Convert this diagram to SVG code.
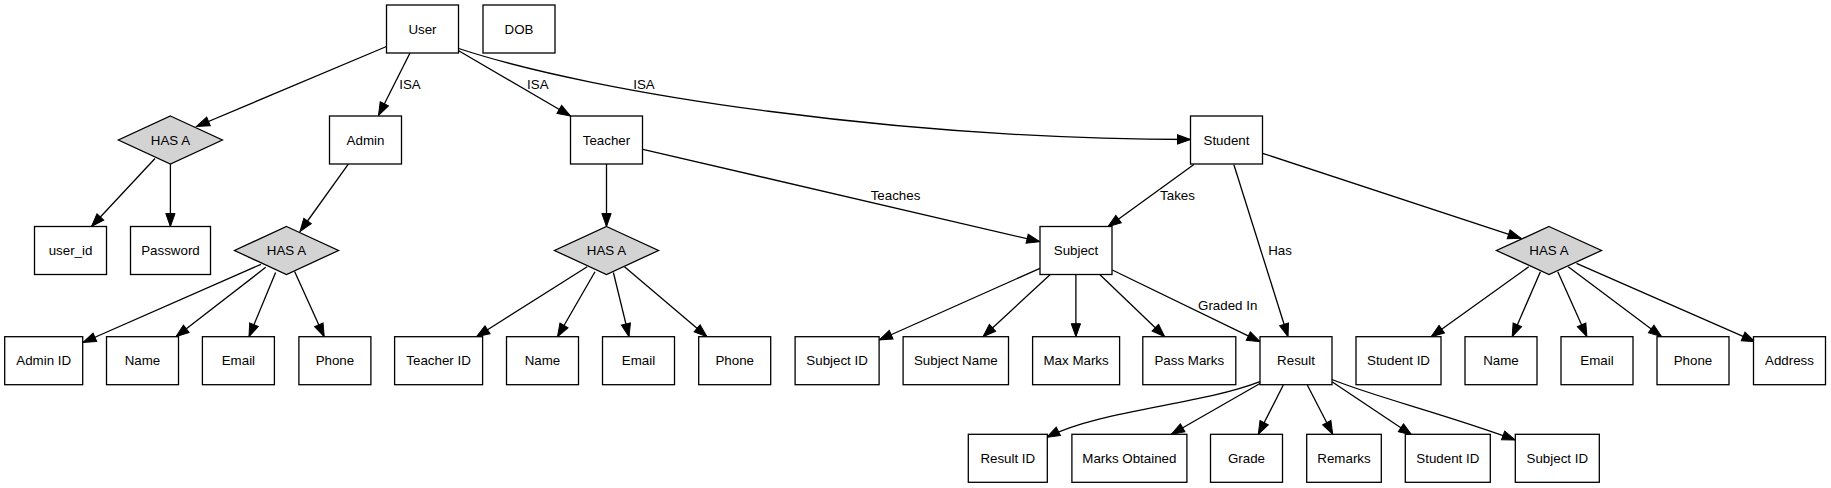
<svg xmlns="http://www.w3.org/2000/svg" width="1831" height="488" viewBox="0 0 1831 488">
<style>
.n rect{fill:#fff;stroke:#000;stroke-width:1.3}
.n polygon{fill:#d3d3d3;stroke:#000;stroke-width:1.3}
text{font-family:"Liberation Sans",Arial,sans-serif;font-size:13.33px;fill:#000;text-anchor:middle}
.e path{fill:none;stroke:#000;stroke-width:1.3;marker-end:url(#ah)}
</style>
<defs>
<marker id="ah" markerUnits="userSpaceOnUse" markerWidth="15" markerHeight="12" refX="13" refY="5" orient="auto" viewBox="-1 -1 15 12">
<path d="M0,0.35 L13,5 L0,9.65 z" fill="#000" stroke="#000" stroke-width="1"/>
</marker>
</defs>
<rect width="1831" height="488" fill="#fff"/>
<g id="edges" class="e">
<path d="M386.5,46.5 L196.5,126.5"/>
<path d="M410,53 L378.5,115.5"/>
<path d="M458.7,50.7 L570.5,116"/>
<path d="M458.7,48.5 C600,95 900,139 1190.5,139.5"/>
<path d="M155,158.5 L91.5,226.5"/>
<path d="M170.4,164 L170.4,226.5"/>
<path d="M348.3,164.2 L300,231.5"/>
<path d="M261,264.3 L83,342.5"/>
<path d="M265.7,267.3 L176,336.7"/>
<path d="M275.6,272.5 L249,336.7"/>
<path d="M294.6,271.5 L324.2,336.7"/>
<path d="M606.5,164 L606.5,226.5"/>
<path d="M587.2,266.7 L476.5,336.7"/>
<path d="M595,271.7 L557.5,336.7"/>
<path d="M613.4,272.5 L629,336.7"/>
<path d="M624.5,266.7 L707,336.7"/>
<path d="M642.9,149.3 L1039.8,241.7"/>
<path d="M1193.9,164.5 L1108,226.7"/>
<path d="M1233.8,164.5 L1288,336.7"/>
<path d="M1262.6,153.3 L1521,238.3"/>
<path d="M1528.8,266.7 L1431.2,336.7"/>
<path d="M1540.4,271.7 L1512.2,336.7"/>
<path d="M1557.8,271.7 L1586.9,336.7"/>
<path d="M1568.2,266.7 L1661.6,336.7"/>
<path d="M1576.5,263.3 L1755,341.7"/>
<path d="M1040,268.3 L879.3,340"/>
<path d="M1050,274.7 L983,336.7"/>
<path d="M1075.9,274.7 L1075.9,336.7"/>
<path d="M1100,274.7 L1164.7,336.7"/>
<path d="M1112.3,270 L1260,341.7"/>
<path d="M1260,381.7 C1200,405 1100,410 1046.8,437.3"/>
<path d="M1260,383.5 L1171.4,434.3"/>
<path d="M1283.3,385 L1258.3,434.3"/>
<path d="M1307.3,385 L1332.7,434.3"/>
<path d="M1332,381.7 L1411.7,435"/>
<path d="M1332,379.5 C1375,397 1445,414 1515.3,440"/>
<text x="410" y="88.5">ISA</text>
<text x="537.8" y="88.5">ISA</text>
<text x="644" y="88.5">ISA</text>
<text x="895.5" y="199.5">Teaches</text>
<text x="1177.5" y="199.5">Takes</text>
<text x="1280" y="254.5">Has</text>
<text x="1227.7" y="309.5">Graded In</text>
</g>
<g id="user" class="n"><rect x="386.5" y="5" width="72" height="48"/><text x="422.5" y="33.7">User</text></g>
<g id="dob" class="n"><rect x="483" y="5" width="72" height="48"/><text x="519" y="33.7">DOB</text></g>
<g id="hasa_user" class="n"><polygon points="170.4,116 222.4,140 170.4,164 118.4,140"/><text x="170.4" y="144.7">HAS A</text></g>
<g id="admin" class="n"><rect x="329.5" y="116" width="72" height="48"/><text x="365.5" y="144.7">Admin</text></g>
<g id="teacher" class="n"><rect x="570.5" y="116" width="72" height="48"/><text x="606.5" y="144.7">Teacher</text></g>
<g id="student" class="n"><rect x="1190.5" y="116" width="72" height="48"/><text x="1226.5" y="144.7">Student</text></g>
<g id="user_id" class="n"><rect x="34.5" y="226.5" width="72" height="48"/><text x="70.5" y="255.2">user_id</text></g>
<g id="password" class="n"><rect x="130.5" y="226.5" width="80" height="48"/><text x="170.5" y="255.2">Password</text></g>
<g id="hasa_admin" class="n"><polygon points="286.5,226.5 338.5,250.5 286.5,274.5 234.5,250.5"/><text x="286.5" y="255.2">HAS A</text></g>
<g id="hasa_teacher" class="n"><polygon points="606.5,226.5 658.5,250.5 606.5,274.5 554.5,250.5"/><text x="606.5" y="255.2">HAS A</text></g>
<g id="subject" class="n"><rect x="1040" y="226.5" width="72" height="48"/><text x="1076" y="255.2">Subject</text></g>
<g id="hasa_student" class="n"><polygon points="1549,226.5 1601.5,250.5 1549,274.5 1496.5,250.5"/><text x="1549" y="255.2">HAS A</text></g>
<g id="admin_id" class="n"><rect x="4.7" y="336.7" width="78" height="48"/><text x="43.7" y="365.4">Admin ID</text></g>
<g id="admin_name" class="n"><rect x="106.5" y="336.7" width="72" height="48"/><text x="142.5" y="365.4">Name</text></g>
<g id="admin_email" class="n"><rect x="202.4" y="336.7" width="72" height="48"/><text x="238.4" y="365.4">Email</text></g>
<g id="admin_phone" class="n"><rect x="298.9" y="336.7" width="72" height="48"/><text x="334.9" y="365.4">Phone</text></g>
<g id="teacher_id" class="n"><rect x="394.6" y="336.7" width="88" height="48"/><text x="438.6" y="365.4">Teacher ID</text></g>
<g id="teacher_name" class="n"><rect x="506.5" y="336.7" width="72" height="48"/><text x="542.5" y="365.4">Name</text></g>
<g id="teacher_email" class="n"><rect x="602.5" y="336.7" width="72" height="48"/><text x="638.5" y="365.4">Email</text></g>
<g id="teacher_phone" class="n"><rect x="698.7" y="336.7" width="72" height="48"/><text x="734.7" y="365.4">Phone</text></g>
<g id="subject_id" class="n"><rect x="795.1" y="336.7" width="84" height="48"/><text x="837.1" y="365.4">Subject ID</text></g>
<g id="subject_name" class="n"><rect x="903.1" y="336.7" width="105.4" height="48"/><text x="955.8" y="365.4">Subject Name</text></g>
<g id="max_marks" class="n"><rect x="1032.6" y="336.7" width="87" height="48"/><text x="1076.1" y="365.4">Max Marks</text></g>
<g id="pass_marks" class="n"><rect x="1142.8" y="336.7" width="93" height="48"/><text x="1189.3" y="365.4">Pass Marks</text></g>
<g id="result" class="n"><rect x="1260" y="336.7" width="72" height="48"/><text x="1296" y="365.4">Result</text></g>
<g id="student_id" class="n"><rect x="1356" y="336.7" width="85" height="48"/><text x="1398.5" y="365.4">Student ID</text></g>
<g id="student_name" class="n"><rect x="1465" y="336.7" width="72" height="48"/><text x="1501" y="365.4">Name</text></g>
<g id="student_email" class="n"><rect x="1561" y="336.7" width="72" height="48"/><text x="1597" y="365.4">Email</text></g>
<g id="student_phone" class="n"><rect x="1657" y="336.7" width="72" height="48"/><text x="1693" y="365.4">Phone</text></g>
<g id="address" class="n"><rect x="1753.5" y="336.7" width="72" height="48"/><text x="1789.5" y="365.4">Address</text></g>
<g id="result_id" class="n"><rect x="968.3" y="434.3" width="79" height="48"/><text x="1007.8" y="463">Result ID</text></g>
<g id="marks_obtained" class="n"><rect x="1071.9" y="434.3" width="115" height="48"/><text x="1129.4" y="463">Marks Obtained</text></g>
<g id="grade" class="n"><rect x="1210.5" y="434.3" width="72" height="48"/><text x="1246.5" y="463">Grade</text></g>
<g id="remarks" class="n"><rect x="1306.7" y="434.3" width="74.6" height="48"/><text x="1344" y="463">Remarks</text></g>
<g id="result_student_id" class="n"><rect x="1405.3" y="434.3" width="85" height="48"/><text x="1447.8" y="463">Student ID</text></g>
<g id="result_subject_id" class="n"><rect x="1515.3" y="434.3" width="84" height="48"/><text x="1557.3" y="463">Subject ID</text></g>
</svg>
